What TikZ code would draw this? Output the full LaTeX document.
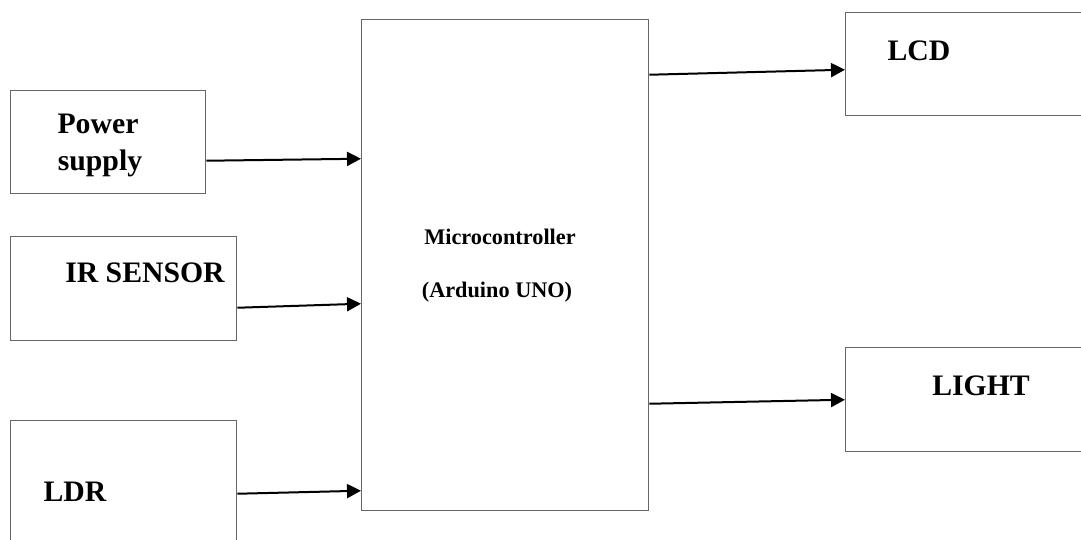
\documentclass[tikz,border=0pt]{standalone}
\usepackage{fontspec}
\setmainfont{Liberation Serif}
\usetikzlibrary{calc,arrows.meta}
\tikzset{
  blockbox/.style={draw=black!60,line width=1.1pt,rectangle,inner sep=0pt,anchor=north west},
  biglabel/.style={font=\bfseries\fontsize{22.3}{26}\selectfont,anchor=base,inner sep=0pt},
  smalllabel/.style={font=\bfseries\fontsize{16.7}{20}\selectfont,anchor=base,inner sep=0pt},
  sigarrow/.style={line width=1.5pt,-{Triangle[length=10.5pt,width=10.5pt]}}
}
\begin{document}
\begin{tikzpicture}[x=0.75pt,y=-0.75pt]
\clip (0,0) rectangle (1081,539);
\fill[white] (0,0) rectangle (1081,539);
% input blocks
\node[blockbox,minimum width=146.25pt,minimum height=77.25pt] (pwr) at (10,90) {};
\node[biglabel] (pwrtop) at (98,133) {Power};
\node[biglabel] (pwrbot) at (100,170) {supply};
\node[blockbox,minimum width=169.5pt,minimum height=78pt] (ir) at (10,236) {};
\node[biglabel] (irtxt) at (145,282) {IR SENSOR};
\node[blockbox,minimum width=169.5pt,minimum height=105pt] (ldr) at (10,420) {};
\node[biglabel] (ldrtxt) at (75,501) {LDR};
% controller
\node[blockbox,minimum width=215.25pt,minimum height=368.25pt] (mcu) at (361,19) {};
\node[smalllabel] (mcutop) at (500,244) {Microcontroller};
\node[smalllabel] (mcubot) at (497,297) {(Arduino UNO)};
% output blocks
\node[blockbox,minimum width=191.25pt,minimum height=77.25pt] (lcd) at (845,12) {};
\node[biglabel] (lcdtxt) at (919,60) {LCD};
\node[blockbox,minimum width=191.25pt,minimum height=78pt] (light) at (845,347) {};
\node[biglabel] (lighttxt) at (981,395) {LIGHT};
% signals
\draw[sigarrow] ($(pwr.east)+(0,18.5)$) -- ($(mcu.west)+(0,-106.5)$);
\draw[sigarrow] ($(ir.east)+(0,19)$) -- ($(mcu.west)+(0,38.5)$);
\draw[sigarrow] ($(ldr.east)+(0,3)$) -- ($(mcu.west)+(0,225.5)$);
\draw[sigarrow] ($(mcu.east)+(0,-190.5)$) -- ($(lcd.west)+(0,5.5)$);
\draw[sigarrow] ($(mcu.east)+(0,138.5)$) -- (light.west);
\end{tikzpicture}
\end{document}
